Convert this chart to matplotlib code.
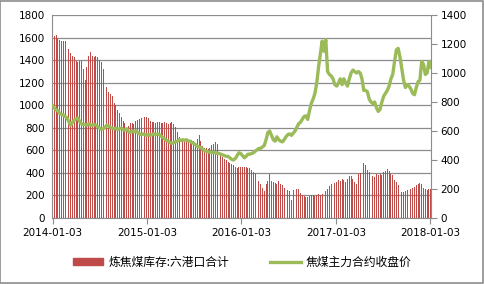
import numpy as np
import pandas as pd
import matplotlib
matplotlib.use("Agg")
from matplotlib import pyplot as plt
from matplotlib.patches import Rectangle
from matplotlib.lines import Line2D

plt.rcParams["font.family"] = ["DejaVu Sans"]

# weekly dates, 2014-01-03 .. 2018-01-05
dates = pd.date_range("2014-01-03", periods=210, freq="7D")

# 炼焦煤库存:六港口合计 (left axis)
stock = [
    # 2014
    1600, 1610, 1620, 1600, 1580, 1570, 1570, 1570, 1520, 1500, 1460, 1440, 1430,
    1390, 1380, 1390, 1390, 1320, 1220, 1340, 1440, 1470, 1440, 1430, 1440, 1430,
    1400, 1380, 1320, 1250, 1160, 1120, 1100, 1080, 1020, 1000, 960, 930, 900,
    860, 840, 800, 820, 840, 845, 830, 860, 870, 880, 890, 880, 900,
    # 2015
    900, 890, 860, 850, 850, 845, 850, 850, 845, 840, 850, 845, 830,
    840, 850, 830, 810, 760, 720, 700, 690, 690, 680, 690, 680, 690,
    680, 650, 700, 740, 680, 640, 620, 620, 610, 620, 650, 660, 670,
    660, 670, 580, 540, 520, 510, 500, 490, 480, 470, 450, 440, 450,
    # 2016
    450, 455, 450, 450, 445, 440, 430, 410, 400, 360, 330, 300, 270,
    240, 300, 330, 390, 330, 320, 310, 300, 330, 300, 290, 270, 260,
    250, 240, 160, 250, 260, 255, 260, 220, 200, 195, 190, 190, 195,
    200, 200, 195, 200, 210, 205, 210, 215, 240, 260, 280, 300, 310,
    # 2017
    310, 320, 340, 330, 350, 340, 320, 350, 370, 370, 350, 320, 300,
    390, 400, 410, 490, 470, 430, 410, 390, 370, 360, 390, 380, 390,
    385, 410, 420, 435, 420, 390, 380, 340, 320, 290, 240, 230, 230,
    235, 250, 255, 260, 270, 275, 290, 300, 310, 300, 270, 260, 250,
    # 2018
    260, 255,
]

# 焦煤主力合约收盘价 (right axis)
price = [
    # 2014
    775, 760, 745, 740, 720, 715, 710, 700, 690, 665, 640, 660, 675,
    685, 690, 665, 650, 645, 645, 640, 650, 640, 640, 645, 640, 630,
    620, 610, 615, 625, 640, 635, 625, 620, 615, 620, 610, 615, 620,
    610, 605, 615, 595, 590, 600, 595, 600, 590, 580, 575, 580, 575,
    # 2015
    570, 575, 570, 575, 580, 575, 580, 575, 565, 555, 545, 535, 530,
    520, 515, 520, 525, 530, 540, 535, 540, 535, 540, 530, 530, 520,
    515, 505, 495, 490, 485, 475, 465, 460, 455, 455, 450, 455, 450,
    445, 445, 440, 435, 430, 425, 425, 415, 405, 400, 410, 430, 450,
    # 2016
    445, 430, 415, 425, 440, 440, 445, 450, 460, 470, 480, 480, 490,
    500, 540, 590, 600, 570, 540, 530, 560, 540, 530, 525, 540, 560,
    575, 580, 570, 585, 600, 625, 650, 660, 680, 700, 705, 680, 740,
    790, 820, 860, 930, 1040, 1130, 1220, 1150, 1230, 1010, 990, 980, 960,
    # 2017
    920, 910, 930, 960, 920, 960, 930, 910, 960, 1000, 1020, 1010, 1000,
    1010, 1000, 960, 880, 880, 870, 820, 800, 790, 800, 760, 735, 750,
    800, 840, 860, 880, 910, 960, 990, 1080, 1160, 1170, 1110, 1030, 950,
    900, 920, 910, 890, 860, 850, 900, 940, 950, 1080, 1060, 990, 1000,
    # 2018
    1080, 1040,
]

year_ticks = pd.to_datetime(["2014-01-03", "2015-01-03", "2016-01-03",
                             "2017-01-03", "2018-01-03"])
tick_labels = [d.strftime("%Y-%m-%d") for d in year_ticks]

BAR = "#BE4B48"
LINE = "#9BBB59"
GRID = "#8C8C8C"
AXIS = "#8C8C8C"

fig = plt.figure(figsize=(4.84, 2.84), dpi=100)
ax = fig.add_axes([52 / 484, 1 - 218 / 284, 379 / 484, 203 / 284])
ax2 = ax.twinx()

ax.bar(dates, stock, width=3.6, color=BAR, linewidth=0, zorder=2)
ax2.plot(dates, price, color=LINE, lw=2.4, zorder=3, solid_joinstyle="round")

ax.set_xlim(pd.Timestamp("2014-01-01"), pd.Timestamp("2018-01-06"))
ax.set_ylim(0, 1800)
ax.set_yticks(np.arange(0, 1801, 200))
ax2.set_ylim(0, 1400)
ax2.set_yticks(np.arange(0, 1401, 200))

ax.set_xticks(year_ticks)
ax.set_xticklabels(tick_labels)
ax.yaxis.grid(True, color=GRID, lw=0.9)
ax.set_axisbelow(True)

for a in (ax, ax2):
    for s in ("top",):
        a.spines[s].set_visible(False)
    a.spines["left"].set_color(AXIS)
    a.spines["right"].set_color(AXIS)
    a.spines["bottom"].set_color(AXIS)
ax2.spines["left"].set_visible(False)
ax.spines["right"].set_visible(False)
ax2.spines["bottom"].set_visible(False)

ax.tick_params(axis="x", length=4, color=AXIS, labelsize=7.5, pad=3)
ax.tick_params(axis="y", length=0, labelsize=7.5, pad=5)
ax2.tick_params(axis="y", length=4, color=AXIS, labelsize=7.5, pad=3)

# legend
handles = [Rectangle((0, 0), 1, 1, color=BAR),
           Line2D([], [], color=LINE, lw=2.4)]
fig.legend(handles, ["炼焦煤库存:六港口合计", "焦煤主力合约收盘价"],
           loc="center", bbox_to_anchor=(0.5, 1 - 262 / 284), ncol=2,
           frameon=False, handlelength=2.6, handleheight=0.6,
           columnspacing=3.5, handletextpad=0.4,
           prop={"family": ["Noto Sans CJK SC", "DejaVu Sans"], "size": 8.5})

fig.patches.append(Rectangle((0.001, 0.002), 0.997, 0.995, transform=fig.transFigure,
                             fill=False, ec="#8C8C8C", lw=1.2))

fig.savefig("out.png", dpi=100, facecolor="white")
